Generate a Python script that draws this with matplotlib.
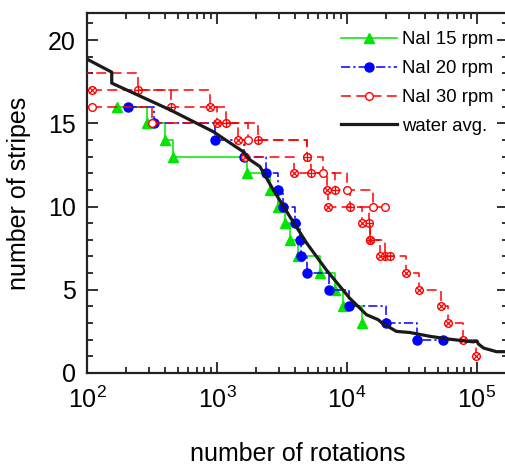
import numpy as np
import matplotlib
matplotlib.use("Agg")
import matplotlib.pyplot as plt
from matplotlib.ticker import MultipleLocator, LogLocator, NullFormatter

plt.rcParams['font.family'] = ['Liberation Sans', 'DejaVu Sans']
plt.rcParams['mathtext.fontset'] = 'custom'
plt.rcParams['mathtext.rm'] = 'Liberation Sans'
plt.rcParams['mathtext.it'] = 'Liberation Sans:italic'

# ---- data ----
water_x = [100, 155, 155, 437, 933, 1585, 1795, 2138, 2710, 3630, 4898, 6918,
           10470, 14130, 17380, 18620, 23990, 30550, 43650, 61660, 93330,
           100000, 102300, 112200, 141300, 173800]
water_y = [18.85, 18.07, 17.41, 15.8, 14.5, 13.3, 12.8, 12.4, 11.0, 9.4, 7.8, 6.2,
           4.5, 3.5, 3.2, 3.0, 2.5, 2.43, 2.2, 2.03, 1.87,
           1.92, 1.75, 1.5, 1.28, 1.28]

nai15_x = [170, 290, 400, 455, 1690, 2560, 2970, 3340, 3650, 4200, 6170, 8100, 9300, 13000]
nai15_y = [16, 15, 14, 13, 12, 11, 10, 9, 8, 7, 6, 5, 4, 3]

nai20_x = [207, 325, 960, 1610, 2400, 2950, 3240, 3970, 4350, 4430, 4890, 7310,
           10400, 20000, 34500, 55000]
nai20_y = [16, 15, 14, 13, 12, 11, 10, 9, 8, 7, 6, 5, 4, 3, 2, 2]

# NaI 30 rpm: three runs (open circle, circle-plus, circle-cross markers)
nai30a_x = [109, 315, 1720, 4950, 6500, 9950, 15900, 19600]
nai30a_y = [16, 15, 14, 13, 12, 11, 10, 10]
nai30b_x = [90, 248, 443, 1170, 2060, 4950, 5250, 8070, 10550, 14750, 15100, 19600, 21400]
nai30b_y = [18, 17, 16, 15, 14, 13, 12, 11, 10, 9, 8, 7, 7]
nai30c_x = [109, 884, 995, 1445, 1640, 3940, 7000, 7200, 13000, 15100, 17950,
            28400, 36000, 52500, 60000, 77500, 98000]
nai30c_y = [17, 16, 15, 14, 13, 12, 11, 10, 9, 8, 7, 6, 5, 4, 3, 2, 1]

x_ticks = [1e2, 1e3, 1e4, 1e5]
x_ticklabels = ['$10^2$', '$10^3$', '$10^4$', '$10^5$']
y_ticks = [0, 5, 10, 15, 20]

# ---- figure ----
W, H = 506, 468
fig = plt.figure(figsize=(W / 100, H / 100), dpi=100)
left_px, right_px, top_px, bot_px = 87, 508, 13, 373
ax = fig.add_axes([left_px / W, 1 - bot_px / H,
                   (right_px - left_px) / W, (bot_px - top_px) / H])
ax.set_xscale('log')
ppd = 130.0
ax.set_xlim(1e2, 10 ** (2 + (right_px - left_px) / ppd))
ax.set_ylim(0, (bot_px - top_px) / 16.65)

green = '#00e600'
blue = '#0000ff'
red = '#ff0000'

ax.plot(nai15_x, nai15_y, drawstyle='steps-post', color=green, lw=1.1,
        marker='^', ms=7, mfc=green, mec=green, label='NaI 15 rpm', zorder=2)
ax.plot(nai20_x, nai20_y, drawstyle='steps-post', color=blue, lw=1.1,
        dashes=(6, 2, 1.5, 2), marker='o', ms=6.5, mfc=blue, mec=blue,
        label='NaI 20 rpm', zorder=3)

red_kw = dict(drawstyle='steps-post', color=red, lw=1.1, dashes=(6.5, 3.5),
              ms=5.5, mfc='white', mec=red, mew=1.0, zorder=4)
ax.plot(nai30b_x, nai30b_y, marker='o', **red_kw)
ax.plot(nai30b_x, nai30b_y, ls='none', marker='+', ms=5.5, mec=red, mew=0.9, zorder=4.1)
ax.plot(nai30c_x, nai30c_y, marker='o', **red_kw)
ax.plot(nai30c_x, nai30c_y, ls='none', marker='x', ms=4, mec=red, mew=0.9, zorder=4.1)
ax.plot(nai30a_x, nai30a_y, marker='o', label='NaI 30 rpm', **red_kw)

ax.plot(water_x, water_y, color='#1a1a1a', lw=2.3, label='water avg.', zorder=5)

# ---- axes styling ----
for s in ax.spines.values():
    s.set_linewidth(1.6)
    s.set_color('#222222')
ax.set_xticks(x_ticks)
ax.set_xticklabels(x_ticklabels)
ax.xaxis.set_minor_locator(LogLocator(base=10, subs=np.arange(2, 10)))
ax.xaxis.set_minor_formatter(NullFormatter())
ax.set_yticks(y_ticks)
ax.yaxis.set_minor_locator(MultipleLocator(1))
ax.tick_params(which='both', direction='in', top=True, right=True,
               width=1.3, color='#222222', labelsize=18)
ax.tick_params(which='major', length=8)
ax.tick_params(which='minor', length=4)
ax.tick_params(axis='x', which='major', pad=10)
ax.tick_params(axis='y', which='major', pad=8)

ax.set_xlabel('number of rotations', fontsize=18, labelpad=21)
ax.set_ylabel('number of stripes', fontsize=18, labelpad=12)

leg = ax.legend(loc='upper left', bbox_to_anchor=((323 - left_px) / (right_px - left_px), 1.0),
                frameon=False, fontsize=13.3, handlelength=3.0, handletextpad=0.3,
                labelspacing=0.64, borderaxespad=0.0, borderpad=1.0)

fig.savefig('out.png', dpi=100)
